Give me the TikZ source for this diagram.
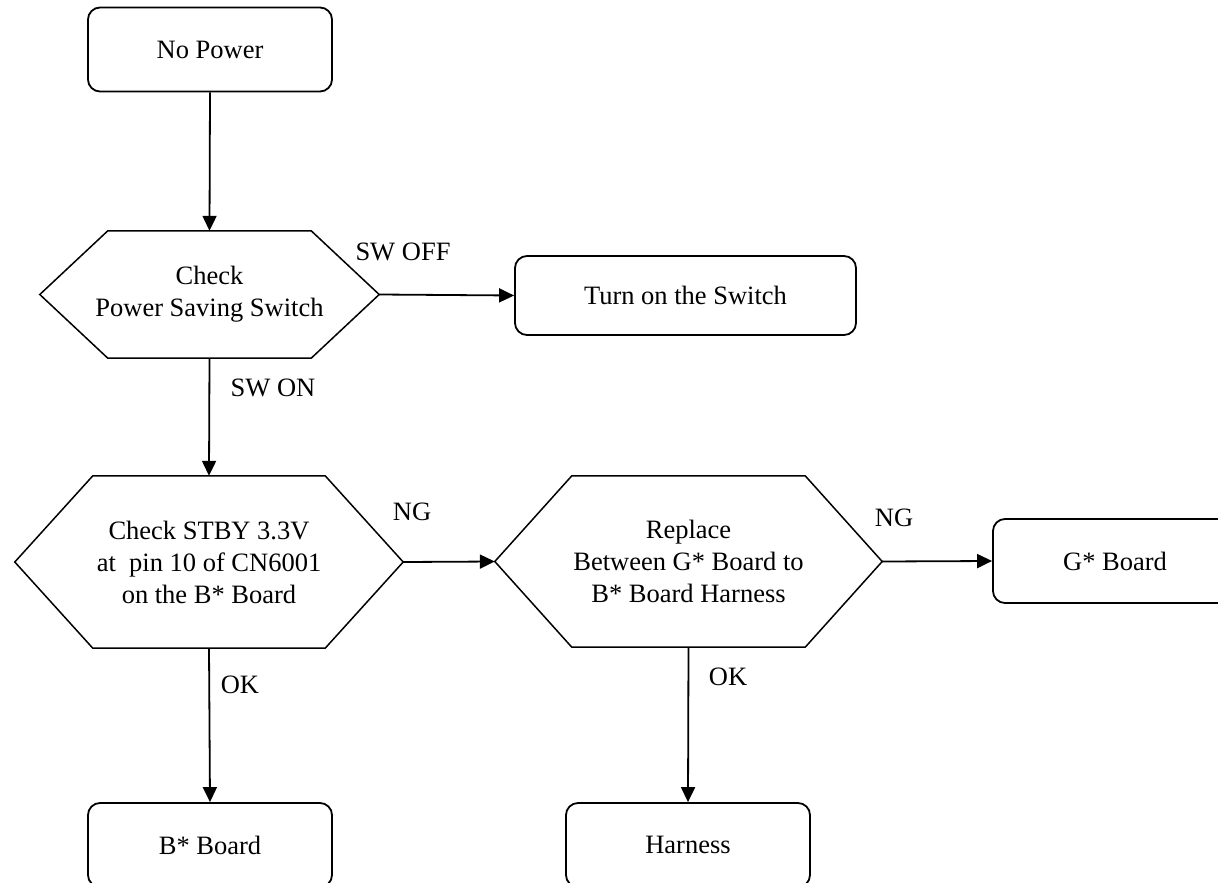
\documentclass[tikz,border=0pt]{standalone}
\usepackage{fontspec}
\setmainfont{Liberation Serif}
\usetikzlibrary{arrows.meta,calc}
\definecolor{ink}{HTML}{000000}

% hexagon around a (hidden) rectangular node; #2 is the horizontal cut
\newcommand{\hexframe}[2]{%
  \draw[hexline] (#1.west) -- ([xshift=#2]#1.north west)
    -- ([xshift=-#2]#1.north east) -- (#1.east)
    -- ([xshift=-#2]#1.south east) -- ([xshift=#2]#1.south west) -- cycle;}

\begin{document}
\begin{tikzpicture}[x=1pt,y=-1pt,text=ink,
  box/.style={draw=ink,fill=white,line width=1.8pt,rounded corners=12pt,
    align=center,minimum width=244pt,minimum height=84pt,inner sep=0pt,
    font=\fontsize{26.5}{32}\selectfont},
  hexnode/.style={align=center,inner sep=0pt,
    font=\fontsize{26.5}{32}\selectfont},
  hexline/.style={draw=ink,line width=1.5pt},
  flow/.style={-{Triangle[length=15pt,width=14pt]},line width=1.8pt,draw=ink},
  lbl/.style={font=\fontsize{26.5}{32}\selectfont}]
\useasboundingbox (0,0) rectangle (1218,883);

% top of the chart: start and the switch check
\node[box] (nopower) at (210,49.5) {No Power};
\node[hexnode,minimum width=339pt,minimum height=127pt] (chkswitch) at (209.5,294.5)
  {Check\\Power Saving Switch};
\hexframe{chkswitch}{68pt}
\node[box,minimum width=341pt,minimum height=79pt] (turnon) at (685.5,295.5)
  {Turn on the Switch};
\draw[flow] (nopower.south)--(chkswitch.north);
\draw[flow] (chkswitch.east)--(turnon.west);
\node[lbl] (swoff) at (403,252) {SW OFF};
\node[lbl] (swon) at (273,388) {SW ON};

% middle row: voltage check and harness swap
\node[hexnode,minimum width=388pt,minimum height=172pt] (chkstby) at (209,562)
  {Check STBY 3.3V\\at\ \ pin 10 of CN6001\\on the B* Board};
\hexframe{chkstby}{78pt}
\node[hexnode,minimum width=387pt,minimum height=171pt] (replace) at (688.5,561.5)
  {Replace\\Between G* Board to\\B* Board Harness};
\hexframe{replace}{77pt}
\node[box] (gboard) at (1115,561) {G* Board};
\draw[flow] (chkswitch.south)--(chkstby.north);
\draw[flow] (chkstby.east)--(replace.west);
\draw[flow] (replace.east)--(gboard.west);
\node[lbl] (ngstby) at (412,512) {NG};
\node[lbl] (ngrepl) at (894,518) {NG};

% bottom row: parts to replace
\node[box] (bboard) at (210,845) {B* Board};
\node[box] (harness) at (688,845) {Harness};
\draw[flow] (chkstby.south)--(bboard.north);
\draw[flow] (replace.south)--(harness.north);
\node[lbl] (okstby) at (240,685) {OK};
\node[lbl] (okrepl) at (728,677) {OK};
\end{tikzpicture}
\end{document}
